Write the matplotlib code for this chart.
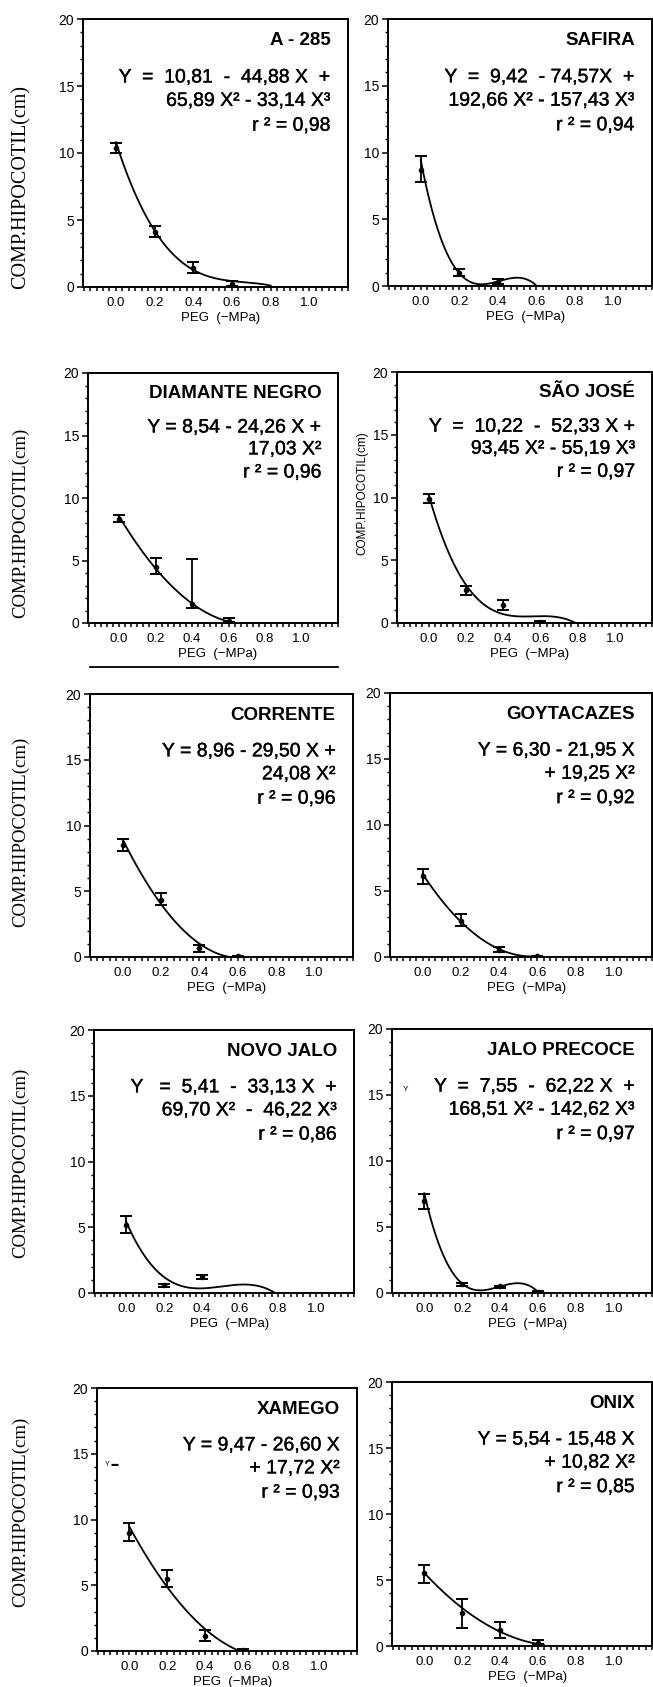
import numpy as np
import matplotlib
matplotlib.use("Agg")
import matplotlib.pyplot as plt
import matplotlib.patheffects as pe
from matplotlib import font_manager
from matplotlib.lines import Line2D
from matplotlib.ticker import FixedLocator, MultipleLocator

# ---- data ----
titles = ["A - 285", "SAFIRA", "DIAMANTE NEGRO", "SÃO JOSÉ", "CORRENTE",
          "GOYTACAZES", "NOVO JALO", "JALO PRECOCE", "XAMEGO", "ONIX"]

# regression coefficients printed in each panel (highest power first)
coefs = [
    [-33.14, 65.89, -44.88, 10.81],
    [-157.43, 192.66, -74.57, 9.42],
    [17.03, -24.26, 8.54],
    [-55.19, 93.45, -52.33, 10.22],
    [24.08, -29.50, 8.96],
    [19.25, -21.95, 6.30],
    [-46.22, 69.70, -33.13, 5.41],
    [-142.62, 168.51, -62.22, 7.55],
    [17.72, -26.60, 9.47],
    [10.82, -15.48, 5.54],
]
# x where the drawn curve stops
curve_end = [0.80, 0.64, 0.62, 0.81, 0.60, 0.60, 0.80, 0.63, 0.60, 0.63]

eq_lines = [
    ["Y  =  10,81  -  44,88 X  +", "65,89 X² - 33,14 X³", "r ² = 0,98"],
    ["Y  =  9,42  - 74,57X  +", "192,66 X² - 157,43 X³", "r ² = 0,94"],
    ["Y = 8,54 - 24,26 X +", "17,03 X²", "r ² = 0,96"],
    ["Y  =  10,22  -  52,33 X +", "93,45 X² - 55,19 X³", "r ² = 0,97"],
    ["Y = 8,96 - 29,50 X +", "24,08 X²", "r ² = 0,96"],
    ["Y = 6,30 - 21,95 X", "+ 19,25 X²", "r ² = 0,92"],
    ["Y   =  5,41  -  33,13 X  +", "69,70 X²  -  46,22 X³", "r ² = 0,86"],
    ["Y  =  7,55  -  62,22 X  +", "168,51 X² - 142,62 X³", "r ² = 0,97"],
    ["Y = 9,47 - 26,60 X", "+ 17,72 X²", "r ² = 0,93"],
    ["Y = 5,54 - 15,48 X", "+ 10,82 X²", "r ² = 0,85"],
]

# observed means with lower / upper error at PEG levels
peg_x = [
    [0.0, 0.2, 0.4, 0.6],
    [0.0, 0.2, 0.4],
    [0.0, 0.2, 0.4, 0.6],
    [0.0, 0.2, 0.4, 0.6],
    [0.0, 0.2, 0.4, 0.6],
    [0.0, 0.2, 0.4, 0.6],
    [0.0, 0.2, 0.4],
    [0.0, 0.2, 0.4, 0.6],
    [0.0, 0.2, 0.4, 0.6],
    [0.0, 0.2, 0.4, 0.6],
]
means = [
    [10.4, 4.1, 1.4, 0.25],
    [8.7, 1.0, 0.3],
    [8.3, 4.5, 1.5, 0.2],
    [9.9, 2.6, 1.4, 0.1],
    [8.5, 4.35, 0.65, 0.05],
    [6.1, 2.75, 0.55, 0.05],
    [5.2, 0.6, 1.25],
    [7.0, 0.7, 0.5, 0.1],
    [9.0, 5.5, 1.15, 0.1],
    [5.5, 2.5, 1.25, 0.25],
]
err_lo = [
    [0.43, 0.4, 0.38, 0.15],
    [0.9, 0.25, 0.15],
    [0.23, 0.54, 0.28, 0.15],
    [0.31, 0.37, 0.36, 0.05],
    [0.42, 0.4, 0.24, 0.05],
    [0.57, 0.4, 0.2, 0.05],
    [0.61, 0.17, 0.16],
    [0.64, 0.17, 0.1, 0.05],
    [0.63, 0.61, 0.39, 0.05],
    [0.75, 1.16, 0.62, 0.1],
]
err_hi = [
    [0.37, 0.47, 0.47, 0.2],
    [1.04, 0.25, 0.2],
    [0.36, 0.7, 3.65, 0.23],
    [0.35, 0.35, 0.43, 0.05],
    [0.47, 0.49, 0.26, 0.05],
    [0.54, 0.51, 0.18, 0.05],
    [0.66, 0.08, 0.09],
    [0.52, 0.08, 0.05, 0.05],
    [0.71, 0.66, 0.45, 0.05],
    [0.64, 1.04, 0.6, 0.2],
]

yticks = [0, 5, 10, 15, 20]
xticks = [0.0, 0.2, 0.4, 0.6, 0.8, 1.0]
xtick_labels = ["0.0", "0.2", "0.4", "0.6", "0.8", "1.0"]
ylabel = "COMP.HIPOCOTIL(cm)"
xlabel = "PEG  (−MPa)"

# ---- layout (pixel boxes in the 653x1687 page: left, bottom, right, top) ----
W, H = 653, 1687
boxes = [
    (83, 287, 348, 19), (388, 286, 652, 19),
    (88, 623, 338, 373), (397, 623, 652, 372),
    (90, 957, 353, 694), (390, 957, 652, 693),
    (94, 1293, 354, 1030), (392, 1293, 652, 1029),
    (97, 1651, 357, 1388), (392, 1646, 652, 1382),
]
ylabel_y = [187, 523, 832, 1163, 1512]
ylabel_size = [14.5, 13.5, 13.5, 13.5, 13.5]

avail = {f.name for f in font_manager.fontManager.ttflist}
narrow = "Liberation Sans Narrow" if "Liberation Sans Narrow" in avail else "Liberation Sans"
sans = [narrow, "DejaVu Sans"]
serif = ["Liberation Serif", "DejaVu Serif"]
plt.rcParams["font.family"] = sans

# very light stroke to imitate the thickened print of the scan
ink = [pe.withStroke(linewidth=0.25, foreground="black")]

fig = plt.figure(figsize=(W / 100, H / 100), dpi=100)

minor_x = [k * 0.2 / 6 for k in range(-5, 37)]

for i in range(10):
    l, b, r, t = boxes[i]
    ax = fig.add_axes([l / W, 1 - b / H, (r - l) / W, (b - t) / H])
    ax.set_xlim(-0.17, 1.2)
    ax.set_ylim(0, 20)
    for s in ax.spines.values():
        s.set_linewidth(1.4)

    xf = np.linspace(0, curve_end[i], 200)
    yf = np.maximum(np.polyval(coefs[i], xf), 0)
    ax.plot(xf, yf, color="black", lw=1.3)

    ax.errorbar(peg_x[i], means[i], yerr=[err_lo[i], err_hi[i]], fmt="o",
                color="black", ms=3, elinewidth=1.3, capsize=4.5, capthick=1.4)

    ax.set_xticks(xticks)
    ax.set_xticklabels(xtick_labels, fontsize=9.5)
    ax.xaxis.set_minor_locator(FixedLocator(minor_x))
    ax.tick_params(axis="x", which="both", direction="out", length=3.2,
                   width=1.1, pad=4)
    ax.set_yticks(yticks)
    ax.set_yticklabels([str(v) for v in yticks], fontsize=10)
    ax.yaxis.set_minor_locator(MultipleLocator(1))
    ax.tick_params(axis="y", which="major", direction="out", length=4.5,
                   width=1.1, pad=2)
    ax.tick_params(axis="y", which="minor", direction="out", length=2.5,
                   width=1)

    ax.text(0.52, -31 / (b - t), xlabel, transform=ax.transAxes,
            ha="center", va="center", fontsize=9.5)

    ax.text(1.11, 18.4, titles[i], ha="right", va="center",
            fontsize=13.5, fontweight="bold")
    for line, yy in zip(eq_lines[i], [15.6, 13.85, 12.0]):
        ax.text(1.11, yy, line, ha="right", va="center", fontsize=14,
                path_effects=ink)

    if i % 2 == 0:
        fig.text(21 / W, 1 - ylabel_y[i // 2] / H, ylabel, rotation=90,
                 ha="center", va="center", fontsize=ylabel_size[i // 2],
                 family=serif)

    if i == 3:
        fig.text(362 / W, 1 - 493 / H, ylabel, rotation=90,
                 ha="center", va="center", fontsize=8.5)
    if i == 7:
        ax.text(-0.1, 15.4, "Y", ha="center", va="center", fontsize=6)
    if i == 8:
        ax.text(-0.09, 14.2, "Y ▬", ha="center", va="center", fontsize=5)

# cropped remnant of a panel border from the scan
fig.add_artist(Line2D([90 / W, 338 / W], [1 - 667 / H, 1 - 667 / H],
                      color="black", lw=1.3))

fig.savefig("out.png", dpi=100)
